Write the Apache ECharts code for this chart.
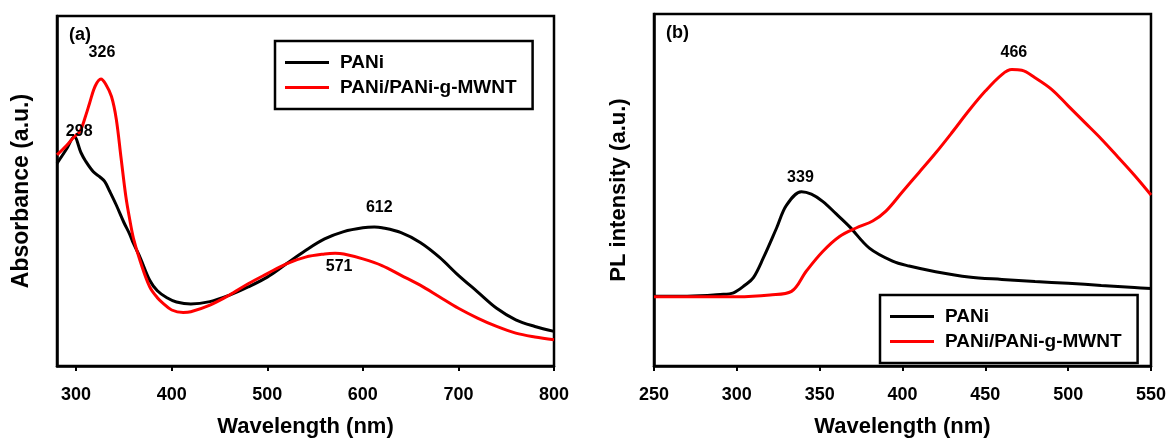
<!DOCTYPE html>
<html>
<head>
<meta charset="utf-8">
<script src="https://cdn.jsdelivr.net/npm/echarts@6/dist/echarts.min.js"></script>
<style>
  html, body { margin: 0; padding: 0; background: #fff; }
  #chart { width: 1169px; height: 443px; }
</style>
</head>
<body>
<div id="chart"></div>
<script>
// (a) UV-vis absorbance
const absPaniX = [280, 290, 298, 305, 310, 318, 325, 330, 335, 342, 350, 356, 360, 367, 377, 385, 395, 405, 420, 440, 460, 480, 500, 520, 540, 560, 580, 600, 612, 620, 640, 660, 680, 700, 720, 740, 760, 780, 800];
const absPaniY = [57.9, 62, 65.5, 61, 58.5, 55.5, 54, 52.7, 50, 46, 41, 37.7, 35, 31, 24.5, 21.5, 19.5, 18.3, 17.7, 18.4, 20.2, 22.6, 25.4, 29.2, 33, 36.3, 38.4, 39.5, 39.7, 39.5, 38.1, 35.3, 31.1, 25.9, 21.2, 16.5, 13.2, 11.3, 9.9];
const absCompX = [280, 290, 298, 304, 310, 314, 320, 326, 331, 337, 342, 347, 352, 356, 360, 367, 377, 385, 391, 400, 412, 420, 440, 460, 480, 500, 520, 540, 560, 571, 580, 600, 620, 640, 660, 680, 700, 720, 740, 760, 780, 800];
const absCompY = [60.3, 63, 65.5, 67, 71.5, 75, 80, 82, 80.5, 77, 70.6, 59.5, 48.5, 42, 36.5, 30, 22.6, 19.5, 17.9, 16, 15.3, 15.5, 17.4, 20.2, 23.5, 26.4, 29.2, 31.1, 32, 32.2, 32, 30.6, 28.7, 25.9, 23.1, 19.8, 16.5, 13.7, 11.3, 9.4, 8.3, 7.5];

// (b) PL spectra
const plPaniX = [250, 270, 290, 298, 305, 310, 316, 324, 330, 339, 345, 352, 360, 368, 380, 394, 404, 420, 440, 460, 480, 500, 520, 540, 550];
const plPaniY = [19.8, 19.8, 20.3, 20.8, 23, 25.1, 30.7, 39.2, 45.7, 49.5, 48.8, 46.7, 43.2, 39.6, 33.5, 29.8, 28.4, 26.8, 25.3, 24.6, 24, 23.5, 22.9, 22.3, 22];
const plCompX = [250, 280, 300, 320, 333, 342, 352, 362, 372, 382, 390, 400, 410, 420, 430, 440, 450, 460, 466, 472, 480, 490, 500, 510, 520, 530, 540, 550];
const plCompY = [19.7, 19.7, 19.7, 20.2, 21.2, 27, 32.6, 36.8, 39.2, 41.2, 44, 49.5, 55, 60.5, 66.4, 72.5, 78.1, 82.8, 84.2, 84, 81.9, 78.6, 73.9, 69.2, 64.5, 59.4, 54.2, 48.6];

const ticksA = [300, 400, 500, 600, 700, 800];
const ticksB = [250, 300, 350, 400, 450, 500, 550];
const seriesNames = ['PANi', 'PANi/PANi-g-MWNT'];

const FONT = 'Liberation Sans, Arial, sans-serif';
const zip = (xs, ys) => xs.map((x, i) => [x, ys[i]]);

// peak label anchored on the curve point, shifted by a pixel offset
function peak(xs, ys, wl, offset) {
  const i = xs.indexOf(wl);
  return { name: String(wl), coord: [xs[i], ys[i]], label: { offset: offset } };
}

function peakMarks(items) {
  return {
    symbol: 'circle',
    symbolSize: 0,
    itemStyle: { color: 'transparent' },
    label: {
      show: true, position: 'inside', formatter: p => p.name,
      color: '#000', fontFamily: FONT, fontWeight: 'bold', fontSize: 16
    },
    data: items
  };
}

function xAxisFor(gridIndex, min, max, ticks) {
  return {
    type: 'value', gridIndex, min, max,
    name: 'Wavelength (nm)', nameLocation: 'middle', nameGap: 50,
    nameTextStyle: { color: '#000', fontFamily: FONT, fontWeight: 'bold', fontSize: 22 },
    axisLine: { show: true, lineStyle: { color: '#000', width: 2.5 } },
    axisTick: { show: true, customValues: ticks, length: 5, inside: false, lineStyle: { color: '#000', width: 2 } },
    axisLabel: {
      customValues: ticks, margin: 20,
      color: '#000', fontFamily: FONT, fontWeight: 'bold', fontSize: 18
    },
    splitLine: { show: false }
  };
}

function yAxisFor(gridIndex, name, size) {
  return {
    type: 'value', gridIndex, min: 0, max: 100,
    name, nameLocation: 'middle', nameGap: 24,
    nameTextStyle: { color: '#000', fontFamily: FONT, fontWeight: 'bold', fontSize: size },
    axisLine: { show: true, lineStyle: { color: '#000', width: 2.5 } },
    axisTick: { show: false },
    axisLabel: { show: false },
    splitLine: { show: false }
  };
}

function legendAt(left, top) {
  return {
    orient: 'vertical', left, top,
    data: seriesNames,
    icon: 'rect', itemWidth: 44, itemHeight: 3, itemGap: 6,
    padding: [12, 16, 12, 10],
    borderColor: '#000', borderWidth: 2.5, borderRadius: 0,
    backgroundColor: '#fff',
    textStyle: { color: '#000', fontFamily: FONT, fontWeight: 'bold', fontSize: 19, padding: [0, 0, 0, 6] }
  };
}

function line(name, data, color, xi, extra) {
  return Object.assign({
    name, type: 'line', data, xAxisIndex: xi, yAxisIndex: xi,
    symbol: 'none', smooth: 0.35, color,
    lineStyle: { color, width: 3 }, z: 3
  }, extra || {});
}

const chart = echarts.init(document.getElementById('chart'));
chart.setOption({
  animation: false,
  backgroundColor: '#fff',
  title: [
    { text: '(a)', left: 69, top: 26, padding: 0, textStyle: { color: '#000', fontFamily: FONT, fontWeight: 'bold', fontSize: 18 } },
    { text: '(b)', left: 666, top: 24, padding: 0, textStyle: { color: '#000', fontFamily: FONT, fontWeight: 'bold', fontSize: 18 } }
  ],
  grid: [
    { left: 57, top: 16, width: 497, height: 354, show: true, borderColor: '#000', borderWidth: 2.5 },
    { left: 654, top: 14, width: 499, height: 355, show: true, borderColor: '#000', borderWidth: 2.5 }
  ],
  legend: [legendAt(275, 41), legendAt(880, 295)],
  xAxis: [xAxisFor(0, 280, 800, ticksA), xAxisFor(1, 250, 550, ticksB)],
  yAxis: [yAxisFor(0, 'Absorbance (a.u.)', 23), yAxisFor(1, 'PL intensity (a.u.)', 22)],
  series: [
    line(seriesNames[0], zip(absPaniX, absPaniY), '#000', 0, {
      markPoint: peakMarks([
        peak(absPaniX, absPaniY, 298, [5, -5]),
        peak(absPaniX, absPaniY, 612, [5, -19])
      ])
    }),
    line(seriesNames[1], zip(absCompX, absCompY), '#ff0000', 0, {
      markPoint: peakMarks([
        peak(absCompX, absCompY, 326, [1, -26]),
        peak(absCompX, absCompY, 571, [4, 13])
      ])
    }),
    line(seriesNames[0], zip(plPaniX, plPaniY), '#000', 1, {
      markPoint: peakMarks([peak(plPaniX, plPaniY, 339, [-1, -14])])
    }),
    line(seriesNames[1], zip(plCompX, plCompY), '#ff0000', 1, {
      markPoint: peakMarks([peak(plCompX, plCompY, 466, [2, -17])])
    })
  ]
});
</script>
</body>
</html>
